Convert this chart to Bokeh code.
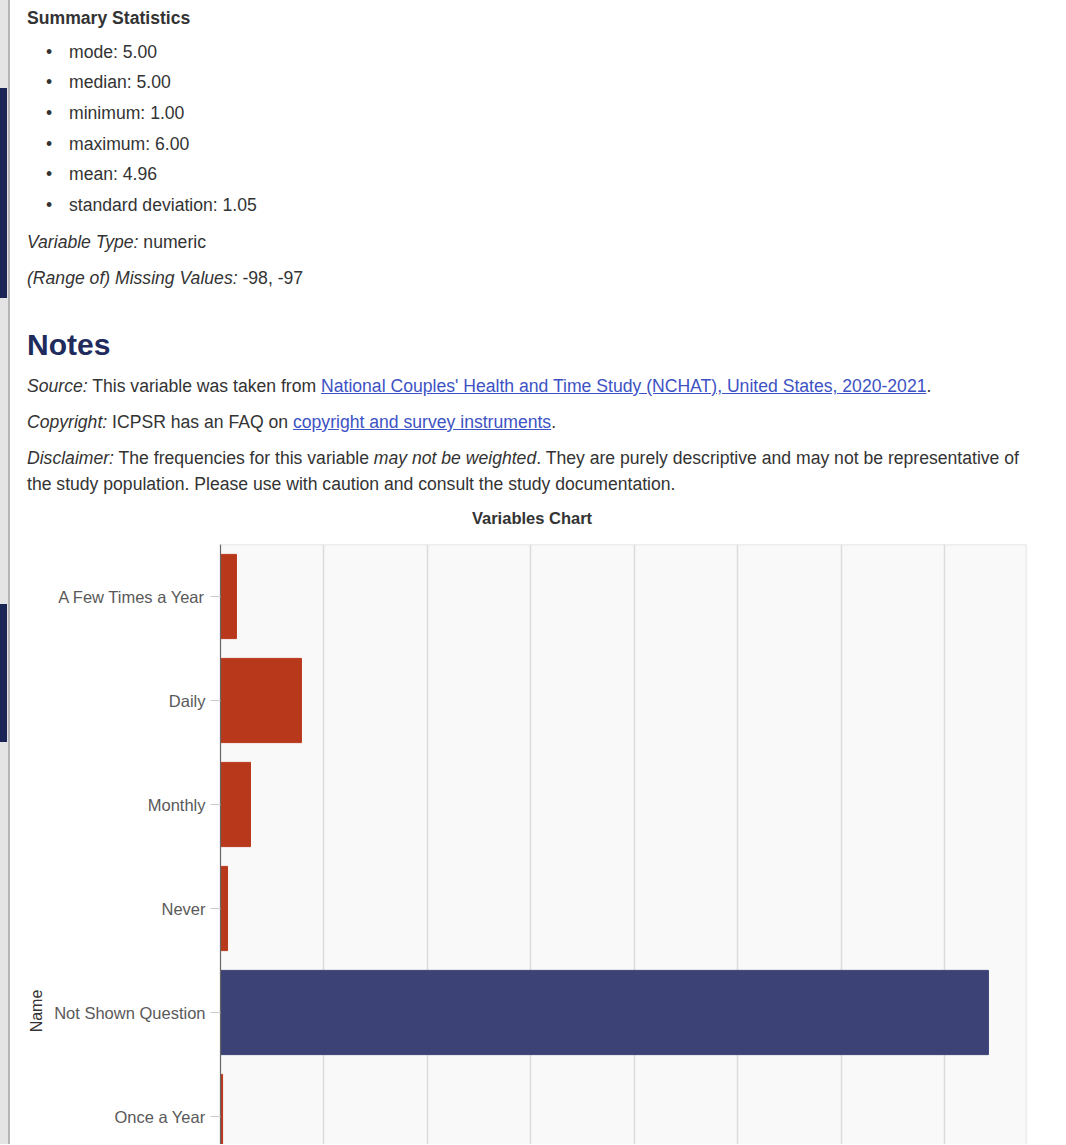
from bokeh.plotting import figure
from bokeh.models import Div, Range1d, FixedTicker, SingleIntervalTicker, Span
from bokeh.layouts import column, row
from bokeh.embed import file_html
from bokeh.resources import INLINE

# ---- data ----
categories = ["A Few Times a Year", "Daily", "Monthly", "Never", "Not Shown Question", "Once a Year"]
counts = [77, 391, 145, 34, 3710, 10]
bar_colors = ["#b8381b", "#b8381b", "#b8381b", "#b8381b", "#3c4276", "#b8381b"]
summary_stats = [("mode", "5.00"), ("median", "5.00"), ("minimum", "1.00"),
                 ("maximum", "6.00"), ("mean", "4.96"), ("standard deviation", "1.05")]

FONT = "'Liberation Sans', Arial, sans-serif"
TXT = "#333333"
LINK = "#3d52c4"
FS = "17.6px"
X0 = 10  # left edge of the content column on the page

def line(top, left, html, extra=""):
    return (f'<div style="position:absolute;top:{top}px;left:{left - (X0 - 8)}px;white-space:nowrap;'
            f'line-height:20px;font-size:{FS};{extra}">{html}</div>')

parts = []
parts.append(line(0, 19, "Summary Statistics", "font-weight:bold;"))
tops = [34, 64, 95, 126, 156, 187]
for (k, v), t in zip(summary_stats, tops):
    parts.append(line(t, 38, "&bull;"))
    parts.append(line(t, 61, f"{k}: {v}"))
parts.append(line(224, 19, "<i>Variable Type:</i> numeric"))
parts.append(line(260, 19, "<i>(Range of) Missing Values:</i> -98, -97"))
parts.append(line(320, 19, "Notes", "font-size:30px;line-height:34px;font-weight:bold;color:#1e2b5c;"))
parts.append(line(368, 19, f'<i>Source:</i> This variable was taken from '
                  f'<span style="color:{LINK};text-decoration:underline;">National Couples\' Health and Time Study (NCHAT), United States, 2020-2021</span>.'))
parts.append(line(404, 19, f'<i>Copyright:</i> ICPSR has an FAQ on '
                  f'<span style="color:{LINK};text-decoration:underline;">copyright and survey instruments</span>.'))
parts.append(line(440, 19, '<i>Disclaimer:</i> The frequencies for this variable <i>may not be weighted</i>. '
                  'They are purely descriptive and may not be representative of'))
parts.append(line(466, 19, 'the study population. Please use with caution and consult the study documentation.'))
cw = 1058 - X0
parts.append(f'<div style="position:absolute;top:500px;left:0px;width:{1046 - (X0 - 8)}px;text-align:center;'
             f'font-size:16.5px;line-height:20px;font-weight:bold;color:#333;">Variables Chart</div>')

html = (f'<div style="position:relative;width:{cw}px;height:526px;font-family:{FONT};color:{TXT};">'
        + "".join(parts) + '</div>')
div = Div(text=html, width=cw, height=526, margin=(0, 0, 0, 0))

# left strip (edge of the page behind the panel)
strip_html = ('<div style="position:relative;width:10px;height:1144px;background:#e4e4e4;">'
              '<div style="position:absolute;left:0;top:88px;width:7px;height:210px;background:#1c2656;"></div>'
              '<div style="position:absolute;left:0;top:604px;width:7px;height:138px;background:#1c2656;"></div>'
              '<div style="position:absolute;left:8px;top:0;width:2px;height:1144px;background:#b5b5b5;"></div>'
              '</div>')
strip = Div(text=strip_html, width=X0, height=1144, margin=(0, 0, 0, 0))

# ---- chart ----
fig_h = 610
name_w = 38
name_html = (f'<div style="position:relative;width:{name_w}px;height:{fig_h}px;font-family:{FONT};">'
             f'<div style="position:absolute;left:{37 - X0}px;top:477px;transform:translate(-50%,-50%) rotate(-90deg);'
             f'font-size:16px;color:#333;white-space:nowrap;">Name</div></div>')
name_div = Div(text=name_html, width=name_w, height=fig_h, margin=(0, 0, 0, 0))

idx = list(range(len(categories)))
band_px = 104.0
frame_h = fig_h - 10
p = figure(width=cw - name_w, height=fig_h, output_backend="svg", toolbar_location=None,
           x_range=Range1d(0, 3894), y_range=Range1d(-0.5 + frame_h / band_px, -0.5),
           x_axis_location=None, min_border_left=220 - X0 - name_w, min_border_right=32,
           min_border_top=10, min_border_bottom=0, margin=(0, 0, 0, 0))
p.background_fill_color = "#f9f9f9"
p.border_fill_color = "white"
p.outline_line_color = None

p.hbar(y=idx, left=0, right=counts, height=0.81, fill_color=bar_colors,
       line_color=bar_colors, line_width=1)

p.xgrid.ticker = SingleIntervalTicker(interval=500)
p.xgrid.grid_line_color = "#dcdcdc"
p.xgrid.grid_line_width = 1.5
p.ygrid.grid_line_color = None

# top and right border of the plot area (bottom is cut off in the view)
p.add_layout(Span(location=p.y_range.end, dimension="width", line_color="#dddddd", line_width=1.5))
p.add_layout(Span(location=p.x_range.end, dimension="height", line_color="#dddddd", line_width=1.5))

ax = p.yaxis[0]
ax.ticker = FixedTicker(ticks=idx)
ax.major_label_overrides = {i: c for i, c in zip(idx, categories)}
ax.major_label_text_font = "Liberation Sans"
ax.major_label_text_font_size = "16.5px"
ax.major_label_text_color = "#595959"
ax.major_tick_out = 10
ax.major_tick_in = 0
ax.major_tick_line_color = "#cccccc"
ax.minor_tick_line_color = None
ax.major_label_standoff = 5
ax.axis_line_color = "#666666"
ax.axis_line_width = 1.2

content = column(div, row(name_div, p, spacing=0, margin=(0, 0, 0, 0)),
                 spacing=0, margin=(8, 0, 0, 0))
layout = row(strip, content, spacing=0, margin=(0, 0, 0, 0))
open("out.html", "w").write(file_html(layout, INLINE))
